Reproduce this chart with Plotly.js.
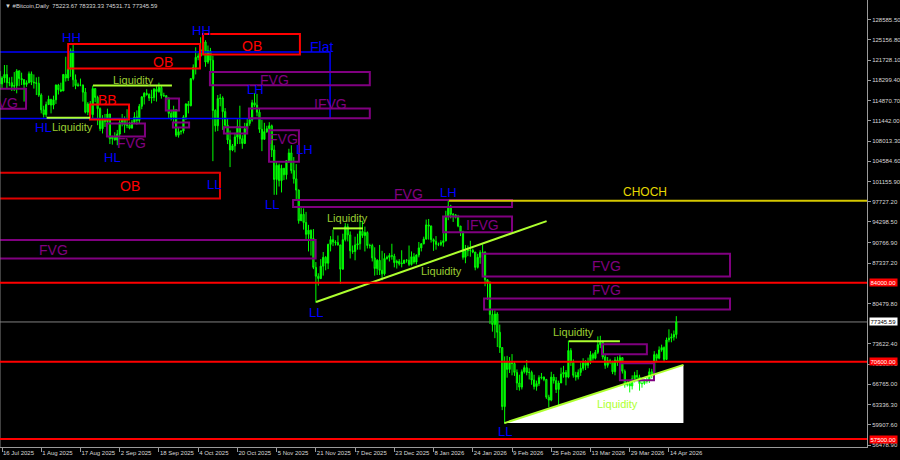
<!DOCTYPE html>
<html><head><meta charset="utf-8">
<script src="https://cdn.plot.ly/plotly-3.0.1.min.js"></script>
<style>html,body{margin:0;padding:0;background:#000;}#chart{width:900px;height:460px;}</style>
</head><body><div id="chart"></div>
<script>
// ---------------- DATA (prices in thousands USD, daily, first candle 2025-07-15) ----------------
const firstDay = '2025-07-15';
const firstOpen = 119.84;
const closeJul = [117.7,118.7,119.3,117.9,117.9,117.3,117.4,119.9,118.6,118.4,117.6,117.9,119.4,118.0,117.9,117.8,115.8];
const highJul  = [119.9,119.0,120.9,120.9,118.8,118.9,119.7,120.2,120.0,119.6,118.5,118.3,119.8,119.8,119.3,118.8,118.9];
const lowJul   = [115.7,116.9,117.9,116.9,117.3,116.5,116.5,116.1,117.3,117.5,114.7,117.2,117.8,117.5,116.9,115.8,115.5];
const closeAug = [113.3,112.5,114.2,115.1,114.1,115.0,117.5,116.7,116.5,119.3,118.7,120.2,123.3,118.4,117.4,117.5,117.5,116.3,112.9,114.3,112.5,116.9,115.4,113.5,110.1,111.8,111.3,112.6,108.4,108.8,108.2];
const highAug  = [116.1,114.0,114.7,115.7,115.1,115.7,117.6,117.7,117.9,119.3,122.3,120.3,123.7,124.4,119.3,117.9,118.6,117.6,117.0,114.6,114.8,117.4,117.0,115.7,113.7,112.4,112.6,113.5,112.6,108.9,109.5];
const lowAug   = [112.7,112.0,112.1,114.1,112.7,113.4,114.3,115.9,116.3,116.5,118.1,118.2,118.9,117.2,116.8,117.2,117.3,114.7,112.7,112.4,112.4,111.7,114.6,110.7,109.7,109.3,110.4,110.9,107.5,107.4,108.1];
const closeSep = [109.2,111.2,111.7,110.7,110.7,110.2,111.2,112.1,111.5,113.9,115.5,116.1,115.9,115.3,115.4,116.8,116.4,117.1,115.7,115.7,115.3,112.7,112.0,113.3,109.0,109.6,109.7,112.1,114.3,114.0];
const highSep  = [109.9,111.8,112.6,112.2,113.4,111.3,111.6,112.9,113.2,114.3,115.6,116.3,116.8,116.1,116.7,117.0,117.3,117.9,117.4,116.2,115.8,115.4,113.3,114.0,113.4,110.3,109.8,112.4,114.4,114.8];
const lowSep   = [107.3,108.6,110.5,109.4,110.2,110.0,110.2,110.9,110.8,110.9,113.4,114.2,115.7,114.8,114.4,114.8,114.7,116.2,115.2,115.5,115.1,111.9,111.5,111.1,108.7,108.6,109.1,109.3,111.6,112.7];
const closeOct = [118.6,120.5,122.2,122.4,123.5,124.8,121.4,123.3,121.7,113.2,110.6,115.2,115.3,113.0,110.7,108.2,106.5,107.2,108.7,110.5,108.4,107.6,110.1,111.0,111.6,114.5,114.1,112.9,110.0,108.3,109.6];
const highOct  = [118.6,121.0,123.9,122.9,125.6,126.2,125.1,124.2,123.8,122.5,113.4,115.8,116.0,115.6,113.6,111.8,109.8,107.5,109.4,111.7,114.0,109.0,111.1,111.9,111.9,115.0,116.1,116.0,113.6,111.6,111.1];
const lowOct   = [113.9,118.3,119.3,121.7,122.3,123.1,120.6,121.1,119.7,104.6,109.6,109.7,113.9,109.9,110.2,107.5,103.6,106.3,106.1,107.5,107.5,106.7,107.5,109.7,110.6,111.3,113.8,112.2,109.4,106.3,108.3];
const closeNov = [110.1,110.6,106.5,101.5,103.9,101.3,103.4,102.3,104.7,106.0,103.0,101.6,99.7,94.5,95.6,94.2,92.2,92.9,91.5,86.6,85.1,84.7,86.8,88.3,87.3,90.5,91.3,90.9,90.8,90.4];
const highNov  = [110.6,111.2,110.8,107.3,104.5,104.2,104.0,103.4,104.8,106.7,107.3,105.3,104.1,99.8,96.8,96.6,96.0,93.8,93.0,93.1,87.5,85.6,88.0,89.2,88.5,90.6,91.9,93.0,91.2,92.0];
const lowNov   = [109.4,109.5,105.3,98.9,98.9,100.3,99.3,101.4,101.5,104.3,102.5,100.8,98.0,94.0,94.6,93.0,91.2,89.3,88.6,86.3,80.6,83.5,84.6,85.2,86.1,86.3,89.3,90.2,90.3,90.3];
const closeDec = [86.3,91.3,93.5,92.1,89.4,89.3,90.4,90.6,92.7,92.0,92.5,90.3,90.3,88.2,86.4,87.8,86.1,85.5,88.1,88.3,88.6,88.5,87.4,87.6,87.2,87.3,87.8,87.8,87.1,88.4,87.5];
const highDec  = [90.4,92.3,94.1,94.0,92.7,90.3,91.8,92.3,94.6,94.5,93.5,92.7,90.6,90.6,90.0,88.0,90.4,89.4,89.0,88.6,89.0,90.6,88.9,87.9,88.0,89.5,87.9,88.0,90.3,89.3,89.0];
const lowDec   = [83.8,86.2,91.0,91.0,88.1,88.9,87.8,89.6,89.6,91.6,89.3,89.8,89.8,87.6,85.2,85.3,85.3,84.4,85.2,87.9,87.6,87.9,86.6,86.4,86.9,86.6,87.2,87.4,86.8,86.9,87.2];
const closeJan = [88.7,89.9,90.6,91.4,93.8,93.6,91.3,91.0,90.5,90.5,90.8,91.1,95.3,97.0,95.6,95.5,95.1,93.6,92.6,88.3,89.4,89.5,89.5,89.2,86.6,88.3,89.1,89.2,84.5,84.1,78.6];
const highJan  = [88.8,90.9,90.7,91.8,94.7,94.8,93.7,91.5,91.9,90.8,91.2,92.4,96.2,97.9,97.2,95.8,95.6,95.5,93.6,92.8,90.4,90.3,91.1,89.8,89.2,88.9,89.5,90.5,89.3,84.6,84.2];
const lowJan   = [87.1,88.3,89.3,90.5,91.3,91.3,90.8,89.4,89.6,90.2,90.2,90.1,91.0,94.6,94.9,94.3,94.9,93.4,91.9,87.9,87.3,88.5,88.4,89.0,86.1,86.4,87.2,88.8,83.4,81.1,77.0];
const closeFeb = [76.9,78.7,75.6,73.0,63.0,70.5,69.3,70.5,70.3,68.8,67.0,66.3,68.9,69.6,68.8,68.8,67.5,66.4,66.9,67.9,68.0,67.6,64.6,64.1,68.0,67.4,65.9,67.0];
const highFeb  = [79.4,79.3,79.0,76.9,73.1,71.5,71.6,71.4,71.9,70.6,69.3,68.4,69.3,70.0,70.9,69.5,69.1,68.4,67.4,68.3,68.7,68.1,67.7,65.0,68.9,68.5,68.0,67.4];
const lowFeb   = [75.7,74.6,73.1,72.1,62.4,60.1,67.9,68.7,68.3,68.2,65.8,65.7,65.9,68.6,68.3,67.6,66.7,65.9,65.7,66.5,67.6,67.3,64.3,62.9,63.9,66.9,65.3,63.1];
const closeMar = [68.5,68.8,68.0,72.5,70.5,68.3,68.0,68.8,69.5,70.5,70.0,70.6,71.8,71.2,72.2,73.5,73.9,71.4,70.0,70.8,70.6,68.9,70.9,70.6,71.3,69.0,66.7,66.9,66.5,67.7,68.3];
const highMar  = [69.6,69.9,69.2,74.2,72.9,71.0,68.9,69.3,70.5,71.2,70.9,71.3,72.4,72.1,72.6,74.9,75.0,74.2,71.8,71.4,71.1,70.8,71.4,71.5,71.9,71.4,69.3,67.4,67.1,68.3,68.9];
const lowMar   = [67.3,67.9,66.6,67.8,69.9,67.9,67.4,67.6,68.2,69.1,69.2,69.5,70.2,70.8,71.0,71.9,72.9,71.0,69.4,69.6,70.2,68.5,68.3,69.9,70.3,68.6,66.2,66.4,65.4,65.9,67.1];
const closeApr = [68.0,66.9,66.9,67.3,67.4,68.9,68.5,71.8,71.2,72.6,73.0,71.0,74.3,74.6,74.8,75.22367,77.34559];
const highApr  = [69.2,68.4,67.3,67.6,68.1,69.5,69.4,72.4,72.0,73.2,73.5,73.2,74.7,76.1,75.4,75.9,78.33333];
const lowApr   = [67.6,65.7,66.2,66.7,66.9,67.0,67.8,68.4,70.6,71.0,72.3,70.6,70.9,73.9,73.9,74.2,74.53171];

const xTickDates = ['2025-07-16','2025-08-01','2025-08-17','2025-09-02','2025-09-18','2025-10-04','2025-10-20','2025-11-05','2025-11-21','2025-12-07','2025-12-23','2026-01-08','2026-01-24','2026-02-09','2026-02-25','2026-03-13','2026-03-29','2026-04-14'];
const yTicks = [128585.5,125156.8,121728.1,118299.4,114870.7,111442.0,108013.3,104584.6,101155.9,97727.2,94298.5,90766.9,87337.2,80479.8,73622.4,70193.7,66765.0,63336.3,59907.6,56478.9];
const redLevels = [84000, 70600, 57500];
const currentPrice = 77345.59;
const chochLevel = 97900;
const titleText = '\u25BC #Bitcoin,Daily  75223.67 78333.33 74531.71 77345.59';

// ---------------- BUILD ----------------
const K = 1000;
const closes = [].concat(closeJul,closeAug,closeSep,closeOct,closeNov,closeDec,closeJan,closeFeb,closeMar,closeApr).map(v=>v*K);
const highs  = [].concat(highJul,highAug,highSep,highOct,highNov,highDec,highJan,highFeb,highMar,highApr).map(v=>v*K);
const lows   = [].concat(lowJul,lowAug,lowSep,lowOct,lowNov,lowDec,lowJan,lowFeb,lowMar,lowApr).map(v=>v*K);
const opens  = [firstOpen*K].concat(closes.slice(0,-1));
const t0 = Date.parse(firstDay+'T00:00:00Z');
const dates = closes.map((_,i)=>new Date(t0+i*86400000).toISOString().slice(0,10));

// helper: date n days after 16 Jul 2025
const base = Date.UTC(2025,6,16);
function day(n){ return new Date(base+n*86400000).toISOString().slice(0,16).replace('T',' '); }
function pday(n){ return day(n).replace(' ','_'); }

const RED='#ff0000', PUR='#800080', BLU='#0000ff', LIQ='#adff2f', LIQT='#9acd32';
function rect(n0,n1,p0,p1,color,w){return {type:'rect',xref:'x',yref:'y',x0:day(n0),x1:day(n1),y0:p0,y1:p1,line:{color:color,width:w},fillcolor:'rgba(0,0,0,0)',layer:'above'};}
function seg(n0,n1,p0,p1,color,w){return {type:'line',xref:'x',yref:'y',x0:day(n0),x1:day(n1),y0:p0,y1:p1,line:{color:color,width:w},layer:'above'};}

const shapes = [
  // white liquidity triangle
  {type:'path',xref:'x',yref:'y',path:'M '+pday(204.9)+',60206 L '+pday(277.9)+',70073 L '+pday(277.9)+',60206 Z',fillcolor:'#ffffff',line:{width:0},layer:'below'},
  // current price line
  {type:'line',xref:'paper',yref:'y',x0:0,x1:1,y0:currentPrice,y1:currentPrice,line:{color:'#808080',width:1},layer:'below'},
  // flat range
  rect(-30,133.8,123120,111830,BLU,1.5),
  // order blocks
  rect(27.0,80.75,124472,120292,RED,2),
  rect(82,121.5,126165,122661,RED,2),
  rect(-30,88.9,102637,98288,'#e00000',2),
  rect(35.9,51.8,114198,111659,RED,2),
  // FVG boxes
  rect(-30,9.8,116856,113470,PUR,2),
  rect(84.8,150,119734,117466,PUR,2),
  rect(100.7,150,113521,111879,PUR,2),
  rect(90.5,100,110356,109290,PUR,2),
  rect(108.9,121.1,109848,104500,PUR,2),
  rect(66.8,72.2,115214,113183,PUR,2),
  rect(69.7,76.3,111152,110305,PUR,2),
  rect(42.8,58.3,110983,108783,PUR,2),
  rect(118.7,208,98000,96850,PUR,2),
  rect(179.9,208,95241,92533,PUR,2),
  rect(-30,127.9,91230,88081,PUR,2),
  rect(196,296.9,88928,85035,PUR,2),
  rect(196.6,296.9,81312,79450,PUR,2),
  rect(244.7,263,73577,71885,PUR,2),
  rect(252,265.9,70360,67483,PUR,2),
  // liquidity lines
  seg(37.1,69.3,117414,117414,LIQ,2),
  seg(18.2,35.9,111947,111947,LIQ,2),
  seg(135,147.2,93210,93210,LIQ,2),
  seg(231.2,252,74083,74083,LIQ,2),
  seg(128.1,222.1,80737,94446,LIQ,2),
  seg(204.9,277.9,60206,70073,LIQ,2),
  // CHOCH
  seg(182.3,400,chochLevel,chochLevel,'#d6c800',2),
  // left border
  {type:'line',xref:'paper',yref:'paper',x0:0,x1:0,y0:0,y1:1,line:{color:'#808080',width:1},layer:'above'}
];
redLevels.forEach(p=>shapes.push({type:'line',xref:'paper',yref:'y',x0:0,x1:1,y0:p,y1:p,line:{color:RED,width:2},layer:'above'}));

function txt(n,p,text,color,size){return {xref:'x',yref:'y',x:day(n),y:p,text:text,showarrow:false,font:{family:'Liberation Sans, Arial',size:size,color:color}};}
const annotations = [
  txt(28.5,125539,'HH',BLU,13), txt(81.2,126724,'HH',BLU,13), txt(-2,124015,'HH',BLU,13),
  txt(17.0,110305,'HL',BLU,13), txt(44.9,105227,'HL',BLU,13), txt(103.2,116737,'LH',BLU,13),
  txt(86.5,100657,'LL',BLU,13), txt(123.2,106500,'LH',BLU,13), txt(110.1,97272,'LL',BLU,13),
  txt(128.1,78993,'LL',BLU,13), txt(181.9,99303,'LH',BLU,13), txt(205.1,58848,'LL',BLU,13),
  txt(130.5,124015,'Flat',BLU,14),
  txt(65.7,121476,'OB',RED,14), txt(102,124184,'OB',RED,14), txt(52.2,100318,'OB',RED,14),
  txt(43.2,115045,'BB',RED,14),
  txt(53,107597,'FVG',PUR,14), txt(0.8,114537,'FVG',PUR,14), txt(111.3,118430,'FVG',PUR,14),
  txt(133.8,114368,'IFVG',PUR,14), txt(115.0,108274,'FVG',PUR,14), txt(165.6,98965,'FVG',PUR,14),
  txt(195.8,93718,'IFVG',PUR,14), txt(20.8,89487,'FVG',PUR,14), txt(246.7,86778,'FVG',PUR,14),
  txt(246.7,82716,'FVG',PUR,14),
  txt(262.2,99303,'CHOCH','#e6d800',12),
  txt(28.8,110475,'Liquidity',LIQT,11), txt(53.8,118430,'Liquidity',LIQT,11), txt(141.1,94903,'Liquidity',LIQT,11),
  txt(179.4,85932,'Liquidity',LIQT,11), txt(232.9,75607,'Liquidity',LIQT,11), txt(251.2,63420,'Liquidity',LIQ,11),
  {xref:'paper',yref:'paper',x:0,y:1,xanchor:'left',yanchor:'top',xshift:3,yshift:-1,text:titleText,showarrow:false,font:{family:'Liberation Sans, Arial',size:6,color:'#d8d8d8'}}
];
redLevels.forEach(p=>annotations.push({xref:'paper',yref:'y',x:1,y:p,xanchor:'left',xshift:2,text:p.toFixed(2),showarrow:false,bgcolor:RED,borderpad:0.5,font:{family:'Liberation Sans, Arial',size:6,color:'#ffffff'}}));
annotations.push({xref:'paper',yref:'y',x:1,y:currentPrice,xanchor:'left',xshift:2,text:currentPrice.toFixed(2),showarrow:false,bgcolor:'#ffffff',borderpad:0.5,font:{family:'Liberation Sans, Arial',size:6,color:'#000000'}});

const trace = {
  type:'candlestick', x:dates, open:opens, high:highs, low:lows, close:closes,
  increasing:{line:{color:'#00ff00',width:1},fillcolor:'#00ff00'},
  decreasing:{line:{color:'#00ff00',width:1},fillcolor:'#008000'},
  whiskerwidth:0, hoverinfo:'skip', showlegend:false
};

const axFont = {family:'Liberation Sans, Arial',size:6,color:'#d8d8d8'};
const layout = {
  width:900, height:460, margin:{l:0,r:33,t:0,b:13},
  paper_bgcolor:'#000000', plot_bgcolor:'#000000', showlegend:false,
  xaxis:{type:'date', range:[day(-0.816), day(352.77)], rangeslider:{visible:false}, showgrid:false, zeroline:false,
    showline:true, linecolor:'#9a9a9a', linewidth:1, ticks:'outside', ticklen:4, tickcolor:'#9a9a9a', tickangle:0,
    tickvals:xTickDates, tickformat:'%-d %b %Y', ticklabelposition:'outside right', tickfont:axFont, fixedrange:true},
  yaxis:{side:'right', range:[56151,131918], showgrid:false, zeroline:false, showline:true, linecolor:'#9a9a9a',
    ticks:'outside', ticklen:3, tickcolor:'#9a9a9a', tickvals:yTicks, ticktext:yTicks.map(v=>v.toFixed(2)), tickfont:axFont, fixedrange:true},
  shapes:shapes, annotations:annotations
};
Plotly.newPlot('chart',[trace],layout,{displayModeBar:false,staticPlot:true});
</script></body></html>
